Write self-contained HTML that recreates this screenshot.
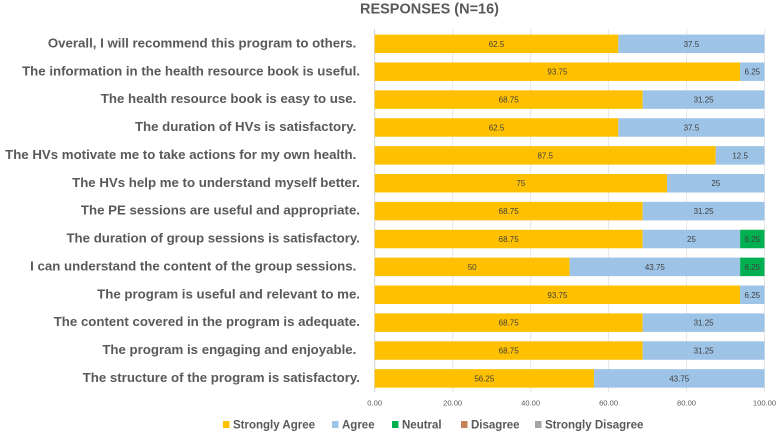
<!DOCTYPE html>
<html>
<head>
<meta charset="utf-8">
<style>
html,body{margin:0;padding:0;background:#fff;width:777px;height:432px;overflow:hidden}
svg{display:block}
text{font-family:"Liberation Sans",sans-serif;white-space:pre}
</style>
</head>
<body>
<svg id="chart" width="777" height="432" viewBox="0 0 777 432" xmlns="http://www.w3.org/2000/svg">
<text x="429.5" y="13.5" text-anchor="middle" font-size="14.5" font-weight="700" fill="#595959">RESPONSES (N=16)</text>
<g id="grid"></g><g id="bars"></g><g id="labels"></g><g id="ticks"></g>
<g font-size="11.5" font-weight="700" fill="#595959" id="legend"></g>
</svg>
<script>
const categories = [
"Overall, I will recommend this program to others. ",
"The information in the health resource book is useful.",
"The health resource book is easy to use. ",
"The duration of HVs is satisfactory. ",
"The HVs motivate me to take actions for my own health. ",
"The HVs help me to understand myself better.",
"The PE sessions are useful and appropriate.",
"The duration of group sessions is satisfactory.",
"I can understand the content of the group sessions. ",
"The program is useful and relevant to me.",
"The content covered in the program is adequate.",
"The program is engaging and enjoyable. ",
"The structure of the program is satisfactory."];
const stronglyAgree = [62.5,93.75,68.75,62.5,87.5,75,68.75,68.75,50,93.75,68.75,68.75,56.25];
const agree = [37.5,6.25,31.25,37.5,12.5,25,31.25,25,43.75,6.25,31.25,31.25,43.75];
const neutral = [0,0,0,0,0,0,0,6.25,6.25,0,0,0,0];
const disagree = [0,0,0,0,0,0,0,0,0,0,0,0,0];
const stronglyDisagree = [0,0,0,0,0,0,0,0,0,0,0,0,0];
const seriesNames = ["Strongly Agree","Agree","Neutral","Disagree","Strongly Disagree"];
const tickValues = [0,20,40,60,80,100];

const NS = "http://www.w3.org/2000/svg";
const seriesValues = [stronglyAgree, agree, neutral, disagree, stronglyDisagree];
const seriesColors = ["#FFC000","#9DC3E6","#00B050","#C5825A","#A5A5A5"];
const left = 374.7, right = 764.5, top0 = 29.9, rowH = 27.88, barH = 18.5;
const x = v => left + (right - left) * v / 100;
const yc = i => top0 + rowH * (i + 0.5);
function mk(parent, tag, attrs, txt) {
  const e = document.createElementNS(NS, tag);
  for (const k in attrs) e.setAttribute(k, attrs[k]);
  if (txt !== undefined) e.textContent = txt;
  document.getElementById(parent).appendChild(e);
  return e;
}
tickValues.forEach(t => {
  const g = mk("grid", "line", {x1:x(t), x2:x(t), y1:29, y2:392, stroke:t === 0 ? "#cfcfcf" : "#e6e6e6", "stroke-width":1});
  
  
  const l = mk("ticks", "text", {x:x(t), y:405.5, "text-anchor":"middle", "font-size":7.6, fill:"#595959"}, t.toFixed(2));
  
  
});
categories.forEach((c, i) => {
  const l = mk("labels", "text", {x:360, y:yc(i) + 3.6, "text-anchor":"end", "font-size":13.25, "font-weight":700, fill:"#595959"}, c);
  
  
  let acc = 0;
  seriesValues.forEach((s, k) => {
    const v = s[i];
    if (!v) return;
    const r = mk("bars", "rect", {x:x(acc), y:yc(i) - barH / 2, width:x(acc + v) - x(acc), height:barH, fill:seriesColors[k]});
    
    
    const d = mk("bars", "text", {x:x(acc + v / 2), y:yc(i) + 3, "text-anchor":"middle", "font-size":8, fill:"#404040"}, String(v));
    
    
    acc += v;
  });
});
const legendPos = [223, 332, 392, 461, 535];
seriesNames.forEach((n, k) => {
  const s = mk("legend", "rect", {x:legendPos[k], y:421, width:6.5, height:7, fill:seriesColors[k]});
  
  
  const t = mk("legend", "text", {x:legendPos[k] + 10, y:428.5}, n);
  
  
});
</script>
</body>
</html>
